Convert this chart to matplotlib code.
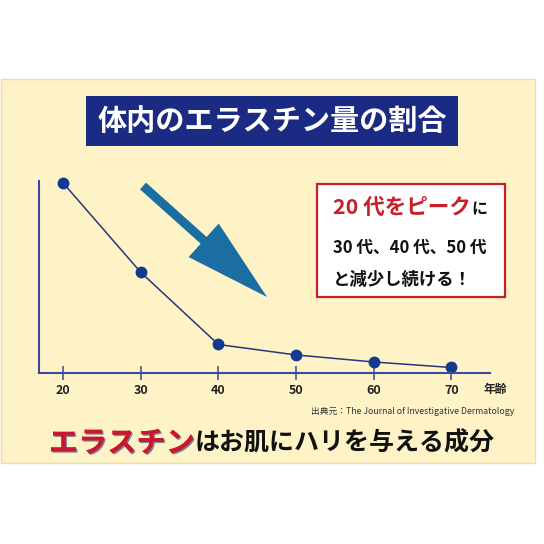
import numpy as np
import matplotlib.pyplot as plt
from matplotlib.patches import Rectangle, FancyArrow
import matplotlib.patheffects as pe

plt.rcParams['font.family'] = ['Noto Sans CJK JP', 'DejaVu Sans']

# data (elastin amount, 20s = 100)
ages = [20, 30, 40, 50, 60, 70]
elastin = [100, 53, 15, 9.5, 5.8, 2.9]
tick_labels = ["20", "30", "40", "50", "60", "70"]

title = "体内のエラスチン量の割合"
source = "出典元：The Journal of Investigative Dermatology"

W = 544
fig = plt.figure(figsize=(5.44, 5.44), dpi=100)
fig.patch.set_facecolor("white")

# decoration layer in pixel coords
deco = fig.add_axes([0, 0, 1, 1], zorder=0)
deco.set_xlim(0, W)
deco.set_ylim(W, 0)
deco.axis("off")

deco.add_patch(Rectangle((1, 79), 534, 384, facecolor="#fef3c6",
                         edgecolor="#ecdcb0", lw=1))
deco.add_patch(Rectangle((86, 96), 372, 50, facecolor="#1b2a82", edgecolor="none"))
deco.text(272, 121, title, color="white", fontsize=21, fontweight="bold",
          ha="center", va="center")

# arrow
deco.add_patch(FancyArrow(143, 186, 124, 111, width=9, head_width=45, head_length=85,
                          length_includes_head=True, color="#1a6ea2", lw=0))

# red box
deco.add_patch(Rectangle((317, 184), 188, 113, facecolor="white",
                         edgecolor="#c8202a", lw=1.6))
deco.text(333, 207, "20 代をピーク", color="#c8202a", fontsize=15.5,
          fontweight="bold", ha="left", va="center")
deco.text(471, 209, "に", color="#111111", fontsize=11.5, fontweight="bold",
          ha="left", va="center")
deco.text(333, 248, "30 代、40 代、50 代", color="#111111", fontsize=12,
          fontweight="bold", ha="left", va="center")
deco.text(333, 280, "と減少し続ける！", color="#111111", fontsize=12.5,
          fontweight="bold", ha="left", va="center")

# axis unit label and source
deco.text(495, 389, "年齢", color="#222222", fontsize=8.5, fontweight="bold",
          ha="center", va="center")
deco.text(514, 412, source, color="#333333", fontsize=6.3, ha="right", va="center")

# bottom caption
shadow = [pe.withSimplePatchShadow(offset=(1, -1), shadow_rgbFace="#5a6a90", alpha=0.8),
          pe.Normal()]
deco.text(49, 443, "エラスチン", color="#c8182c", fontsize=21, fontweight="bold",
          ha="left", va="center", path_effects=shadow)
deco.text(195, 443, "はお肌にハリを与える成分", color="#111111", fontsize=18,
          fontweight="bold", ha="left", va="center")

# chart
x0, x1, yb, yt = 39, 490, 373, 181
ax = fig.add_axes([x0 / W, (W - yb) / W, (x1 - x0) / W, (yb - yt) / W], zorder=1)
ax.patch.set_alpha(0)
ax.plot(ages, elastin, color="#28357c", lw=1.1, marker="o", markersize=7.5,
        markerfacecolor="#123a8e", markeredgecolor="#123a8e", clip_on=False)
ax.set_xlim(16.9, 75.0)
ax.set_ylim(0, 101)
for s in ["top", "right"]:
    ax.spines[s].set_visible(False)
for s in ["left", "bottom"]:
    ax.spines[s].set_color("#3b4a9c")
    ax.spines[s].set_linewidth(1.5)
ax.set_xticks(ages)
ax.set_xticklabels(tick_labels, fontsize=9, fontweight="bold", color="#222222")
ax.set_yticks([])
ax.tick_params(axis="x", direction="inout", length=9.5, width=1.1,
               color="#3b4a9c", pad=3.5)

fig.savefig("out.png", dpi=100)
